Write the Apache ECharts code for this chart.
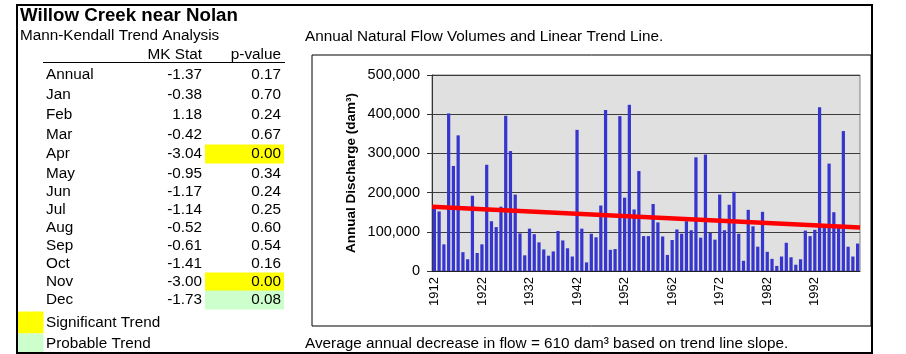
<!DOCTYPE html>
<html>
<head>
<meta charset="utf-8">
<script src="https://cdn.jsdelivr.net/npm/echarts@6/dist/echarts.min.js"></script>
<style>
  html, body { margin: 0; padding: 0; background: #fff; }
  #main { width: 906px; height: 354px; }
</style>
</head>
<body>
<div id="main"></div>
<script>
// annual natural flow volumes, dam3, 1912-2001
var years = [];
for (var y = 1912; y <= 2001; y++) years.push(String(y));

var flows = [
  163000, 152000, 68000, 402000, 268000, 346000, 48000, 30000, 192000, 46000,
  68000, 271000, 127000, 112000, 164000, 396000, 306000, 195000, 96000, 40000,
  108000, 94000, 73000, 55000, 39000, 50000, 102000, 78000, 58000, 37000,
  360000, 108000, 22000, 95000, 86000, 167000, 411000, 54000, 56000, 395000,
  187000, 424000, 157000, 255000, 89000, 89000, 171000, 124000, 88000, 41000,
  79000, 106000, 95000, 127000, 104000, 290000, 85000, 297000, 97000, 80000,
  195000, 104000, 169000, 202000, 95000, 26000, 156000, 114000, 62000, 151000,
  49000, 31000, 13000, 37000, 72000, 35000, 16000, 30000, 103000, 89000,
  105000, 418000, 112000, 274000, 150000, 110000, 357000, 62000, 37000, 70000
];

// trend line ends, read at the plot edges
var trendStart = 164000;
var trendEnd = 111000;

// Mann-Kendall table
var periods = ['Annual', 'Jan', 'Feb', 'Mar', 'Apr', 'May', 'Jun', 'Jul', 'Aug', 'Sep', 'Oct', 'Nov', 'Dec'];
var mkStat = ['-1.37', '-0.38', '1.18', '-0.42', '-3.04', '-0.95', '-1.17', '-1.14', '-0.52', '-0.61', '-1.41', '-3.00', '-1.73'];
var pValue = ['0.17', '0.70', '0.24', '0.67', '0.00', '0.34', '0.24', '0.25', '0.60', '0.54', '0.16', '0.00', '0.08'];

var rowY = [75, 95, 115, 135, 154, 174, 192, 210, 228, 246, 264, 282, 300];

var FONT = '"Liberation Sans", Arial, sans-serif';
var SIG = '#FFFF00';
var PROB = '#CCFFCC';

function txt(x, y, s, opts) {
    opts = opts || {};
    return {
        type: 'text',
        x: x, y: y,
        z: 10,
        style: {
            text: s,
            fill: '#000',
            font: (opts.bold ? 'bold ' : '') + (opts.size || 15.3) + 'px ' + FONT,
            textAlign: opts.align || 'left',
            textVerticalAlign: 'middle'
        }
    };
}

var graphics = [];
graphics.push(txt(20, 16, 'Willow Creek near Nolan', {bold: true, size: 18.7}));
graphics.push(txt(20, 36, 'Mann-Kendall Trend Analysis'));
graphics.push(txt(202, 55, 'MK Stat', {align: 'right'}));
graphics.push(txt(281, 55, 'p-value', {align: 'right'}));
graphics.push({type: 'line', z: 10, shape: {x1: 43, y1: 62.5, x2: 285, y2: 62.5}, style: {stroke: '#000', lineWidth: 1}});

periods.forEach(function (p, i) {
    var pv = parseFloat(pValue[i]);
    var fill = pv < 0.05 ? SIG : (pv < 0.1 ? PROB : null);
    if (fill) {
        graphics.push({type: 'rect', z: 5, shape: {x: 205, y: rowY[i] - 9.5, width: 79, height: 19}, style: {fill: fill}});
    }
    graphics.push(txt(46, rowY[i], p));
    graphics.push(txt(202, rowY[i], mkStat[i], {align: 'right'}));
    graphics.push(txt(281, rowY[i], pValue[i], {align: 'right'}));
});

// legend swatches
graphics.push({type: 'rect', z: 5, shape: {x: 18, y: 311.5, width: 25.5, height: 22}, style: {fill: SIG}});
graphics.push({type: 'rect', z: 5, shape: {x: 18, y: 333.5, width: 25.5, height: 19}, style: {fill: PROB}});
graphics.push(txt(46, 323, 'Significant Trend'));
graphics.push(txt(46, 344, 'Probable Trend'));

// chart captions
graphics.push(txt(305, 37, 'Annual Natural Flow Volumes and Linear Trend Line.'));
graphics.push(txt(305, 344, 'Average annual decrease in flow = 610 dam\u00B3 based on trend line slope.'));

// chart box and outer frame
graphics.push({type: 'rect', z: 1, shape: {x: 312, y: 55, width: 559, height: 271}, style: {fill: 'none', stroke: '#000', lineWidth: 1}});
graphics.push({type: 'rect', z: 20, shape: {x: 17, y: 5, width: 855, height: 348}, style: {fill: 'none', stroke: '#000', lineWidth: 2}});

var chart = echarts.init(document.getElementById('main'));

option = {
    backgroundColor: '#fff',
    animation: false,
    grid: {
        left: 432,
        right: 46,
        top: 75,
        bottom: 83,
        show: true,
        backgroundColor: '#E0E0E0',
        borderColor: '#808080',
        borderWidth: 1
    },
    xAxis: [
        {
            type: 'category',
            data: years,
            axisLine: {lineStyle: {color: '#222', width: 1}},
            axisTick: {show: false},
            axisLabel: {
                interval: 9,
                rotate: 90,
                margin: 6,
                color: '#000',
                fontFamily: FONT,
                fontSize: 13
            }
        },
        {
            type: 'value',
            min: 0,
            max: 90,
            show: false
        }
    ],
    yAxis: {
        type: 'value',
        min: 0,
        max: 500000,
        interval: 100000,
        name: 'Annual Discharge (dam\u00B3)',
        nameLocation: 'middle',
        nameGap: 74,
        nameTextStyle: {
            color: '#000',
            fontFamily: FONT,
            fontSize: 13.5,
            fontWeight: 'bold'
        },
        axisLine: {show: true, lineStyle: {color: '#333', width: 1}},
        axisTick: {show: true, length: 5, lineStyle: {color: '#333'}},
        axisLabel: {
            margin: 12,
            color: '#000',
            fontFamily: FONT,
            fontSize: 14.5,
            formatter: function (v) {
                return String(v).replace(/\B(?=(\d{3})+(?!\d))/g, ',');
            }
        },
        splitLine: {lineStyle: {color: '#3c3c3c', width: 1}}
    },
    series: [
        {
            type: 'bar',
            data: flows,
            barWidth: '68%',
            itemStyle: {color: '#3636CE'}
        },
        {
            type: 'line',
            xAxisIndex: 1,
            data: [[0, trendStart], [90, trendEnd]],
            symbol: 'none',
            lineStyle: {color: '#FF0000', width: 4.5}
        }
    ],
    graphic: graphics
};

chart.setOption(option);
</script>
</body>
</html>
